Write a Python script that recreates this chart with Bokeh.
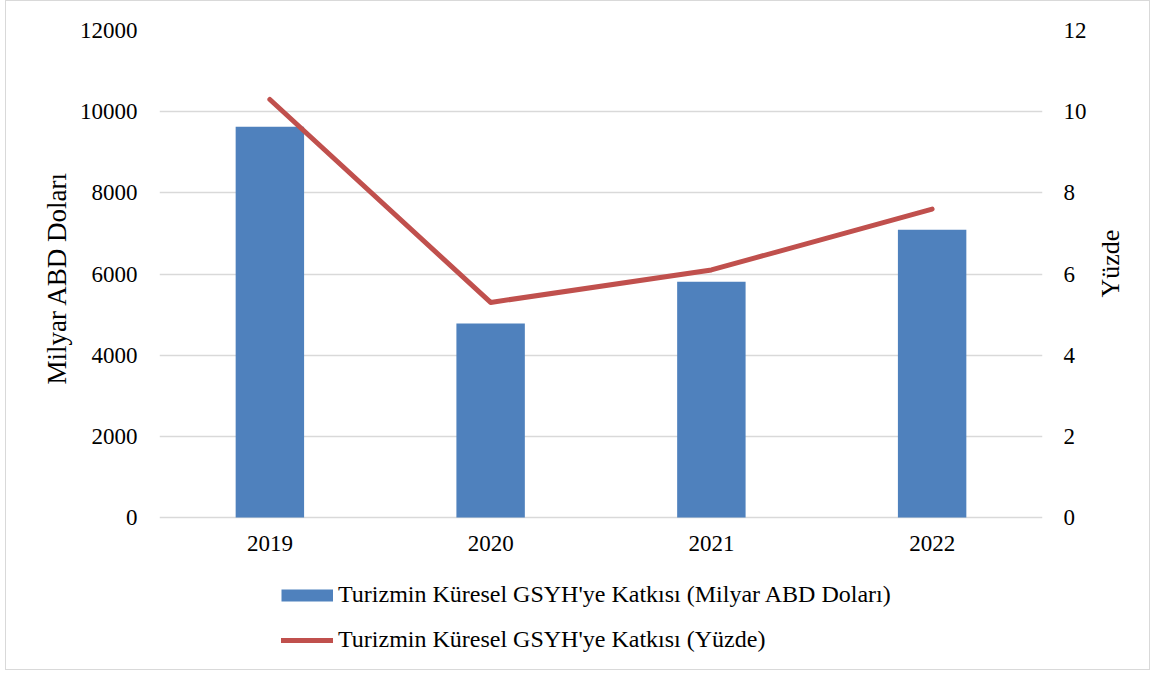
import math
from bokeh.plotting import figure
from bokeh.models import (FactorRange, Range1d, LinearAxis, CategoricalAxis, FixedTicker, Legend,
                          LegendItem, ColumnDataSource, Title)
from bokeh.embed import file_html
from bokeh.resources import INLINE

years = ["2019", "2020", "2021", "2022"]
gdp_usd_bn = [9630, 4780, 5810, 7090]
gdp_share_pct = [10.3, 5.3, 6.1, 7.6]
left_ticks = [0, 2000, 4000, 6000, 8000, 10000, 12000]
right_ticks = [0, 2, 4, 6, 8, 10, 12]

label_bar = "Turizmin Küresel GSYH'ye Katkısı (Milyar ABD Doları)"
label_line = "Turizmin Küresel GSYH'ye Katkısı (Yüzde)"
left_title = "Milyar ABD Doları"
right_title = "Yüzde"

FONT = "Liberation Serif"
BLUE = "#4F81BD"
RED = "#C0504D"
GRID = "#D9D9D9"

# the frame extends below zero so that the legend (drawn inside the frame) is not clipped
Y_MAX, Y_LOW = 12000, -3720
P_MAX, P_LOW = 12, -3.72

src = ColumnDataSource(dict(year=years, usd=gdp_usd_bn, pct=gdp_share_pct,
                            nothing=[float("nan")] * len(years)))

p = figure(width=1145, height=670, x_range=FactorRange(*years), y_range=Range1d(Y_LOW, Y_MAX),
           output_backend="svg", toolbar_location=None, x_axis_location=None,
           min_border_left=153, min_border_right=109, min_border_top=29, min_border_bottom=3)
p.styles = {"border": "1px solid #D9D9D9", "margin-left": "5px"}
p.outline_line_color = None
p.background_fill_color = "white"
p.border_fill_color = "white"
p.extra_y_ranges = {"pct": Range1d(P_LOW, P_MAX)}

for g in p.grid:
    if g.dimension == 0:
        g.grid_line_color = None
    else:
        g.grid_line_color = GRID
        g.grid_line_width = 1.5
p.yaxis.ticker = FixedTicker(ticks=left_ticks)

bars = p.vbar(x="year", top="usd", width=0.31, source=src, fill_color=BLUE, line_color=None)
line = p.line(x="year", y="pct", source=src, y_range_name="pct", line_color=RED,
              line_width=5, line_join="round", line_cap="round")

# legend swatch for the bar series (wide flat bar); draws nothing in the plot
proxy = p.line(x="year", y="nothing", source=src, line_color=BLUE, line_width=12, line_cap="butt")

right = LinearAxis(y_range_name="pct", ticker=FixedTicker(ticks=right_ticks),
                   axis_label="\u00a0" * 8 + right_title)
p.add_layout(right, "right")

for ax in [p.yaxis[0], right]:
    ax.axis_line_color = None
    ax.major_tick_line_color = None
    ax.minor_tick_line_color = None
    ax.major_tick_out = 0
    ax.major_tick_in = 0
    ax.major_label_text_font = FONT
    ax.major_label_text_font_size = "23px"
    ax.major_label_text_color = "black"
    ax.axis_label_text_font = FONT
    ax.axis_label_text_font_size = "26px"
    ax.axis_label_text_font_style = "normal"
    ax.axis_label_text_color = "black"
p.yaxis[0].major_label_standoff = 22
right.major_label_standoff = 21
right.axis_label_standoff = 21
right.axis_label_orientation = math.pi / 2

p.add_layout(Title(text=left_title, align="left", offset=284, text_font=FONT,
                   text_font_size="27px", text_font_style="normal", text_color="black",
                   standoff=10), "left")

xa = CategoricalAxis(fixed_location=0)
xa.axis_line_color = None
xa.major_tick_line_color = None
xa.minor_tick_line_color = None
xa.major_tick_out = 0
xa.major_tick_in = 0
xa.major_label_text_font = FONT
xa.major_label_text_font_size = "23px"
xa.major_label_text_color = "black"
xa.major_label_standoff = 18
p.add_layout(xa, "below")

legend = Legend(items=[LegendItem(label=label_bar, renderers=[proxy]),
                       LegendItem(label=label_line, renderers=[line])],
                location=(122, 15), orientation="vertical",
                glyph_width=52, glyph_height=24, label_height=24, spacing=18,
                padding=0, margin=0, label_standoff=5,
                label_text_font=FONT, label_text_font_size="24px", label_text_color="black",
                border_line_color=None, background_fill_alpha=0)
p.add_layout(legend, "center")

open("out.html", "w").write(file_html(p, INLINE))
